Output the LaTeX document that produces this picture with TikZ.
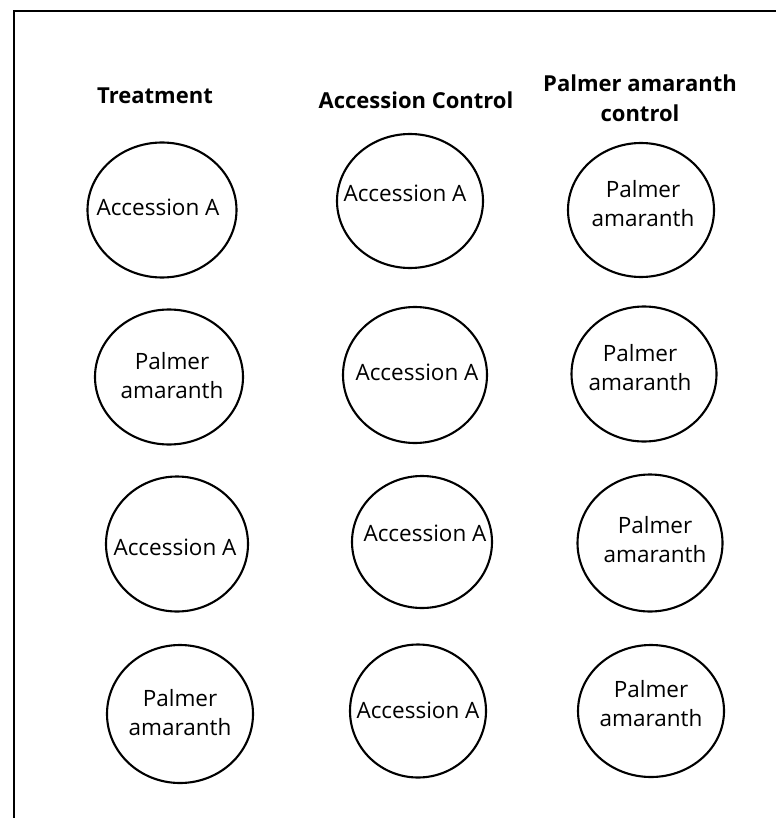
\documentclass[tikz,border=0pt]{standalone}
\usepackage{fontspec}
\setmainfont{Open Sans}
\begin{document}
\begin{tikzpicture}[x=1pt,y=-1pt,
  plotring/.style={line width=2.1pt},
  hdr/.style={font=\fontsize{22}{30}\selectfont\bfseries,align=center},
  lbl/.style={font=\fontsize{22.5}{29}\selectfont,align=center,inner sep=0pt}]
\useasboundingbox (0,0) rectangle (776,818);
\fill[white] (0,0) rectangle (776,818);
\draw[line width=2.6pt] (14,818) -- (14,11) -- (776,11);
% headers
\node[hdr] (h1) at (155,96) {Treatment};
\node[hdr] (h2) at (416,100) {Accession Control};
\node[hdr] (h3) at (640,98) {Palmer amaranth\\control};
% ellipses: center, rx, ry
\draw[plotring] (162,210) ellipse (74.5 and 67.5);
\draw[plotring] (410,201) ellipse (73 and 67);
\draw[plotring] (641,210) ellipse (73 and 67);
\draw[plotring] (169,377) ellipse (74 and 67.5);
\draw[plotring] (415,375) ellipse (72 and 68);
\draw[plotring] (644,374) ellipse (72.5 and 67.5);
\draw[plotring] (177,544) ellipse (71 and 67.5);
\draw[plotring] (422,542) ellipse (70 and 66);
\draw[plotring] (650,543) ellipse (72.5 and 68.5);
\draw[plotring] (180,714) ellipse (73 and 69);
\draw[plotring] (418,711) ellipse (68 and 66.5);
\draw[plotring] (651,711) ellipse (73 and 66);
% labels
\node[lbl] (t11) at (158,207) {Accession A};
\node[lbl] (t12) at (405,193) {Accession A};
\node[lbl] (t13) at (643,204) {Palmer\\amaranth};
\node[lbl] (t21) at (172,376) {Palmer\\amaranth};
\node[lbl] (t22) at (417,372) {Accession A};
\node[lbl] (t23) at (640,368) {Palmer\\amaranth};
\node[lbl] (t31) at (175,547) {Accession A};
\node[lbl] (t32) at (425,533) {Accession A};
\node[lbl] (t33) at (655,540) {Palmer\\amaranth};
\node[lbl] (t41) at (180,713) {Palmer\\amaranth};
\node[lbl] (t42) at (418,710) {Accession A};
\node[lbl] (t43) at (651,704) {Palmer\\amaranth};
\end{tikzpicture}
\end{document}
